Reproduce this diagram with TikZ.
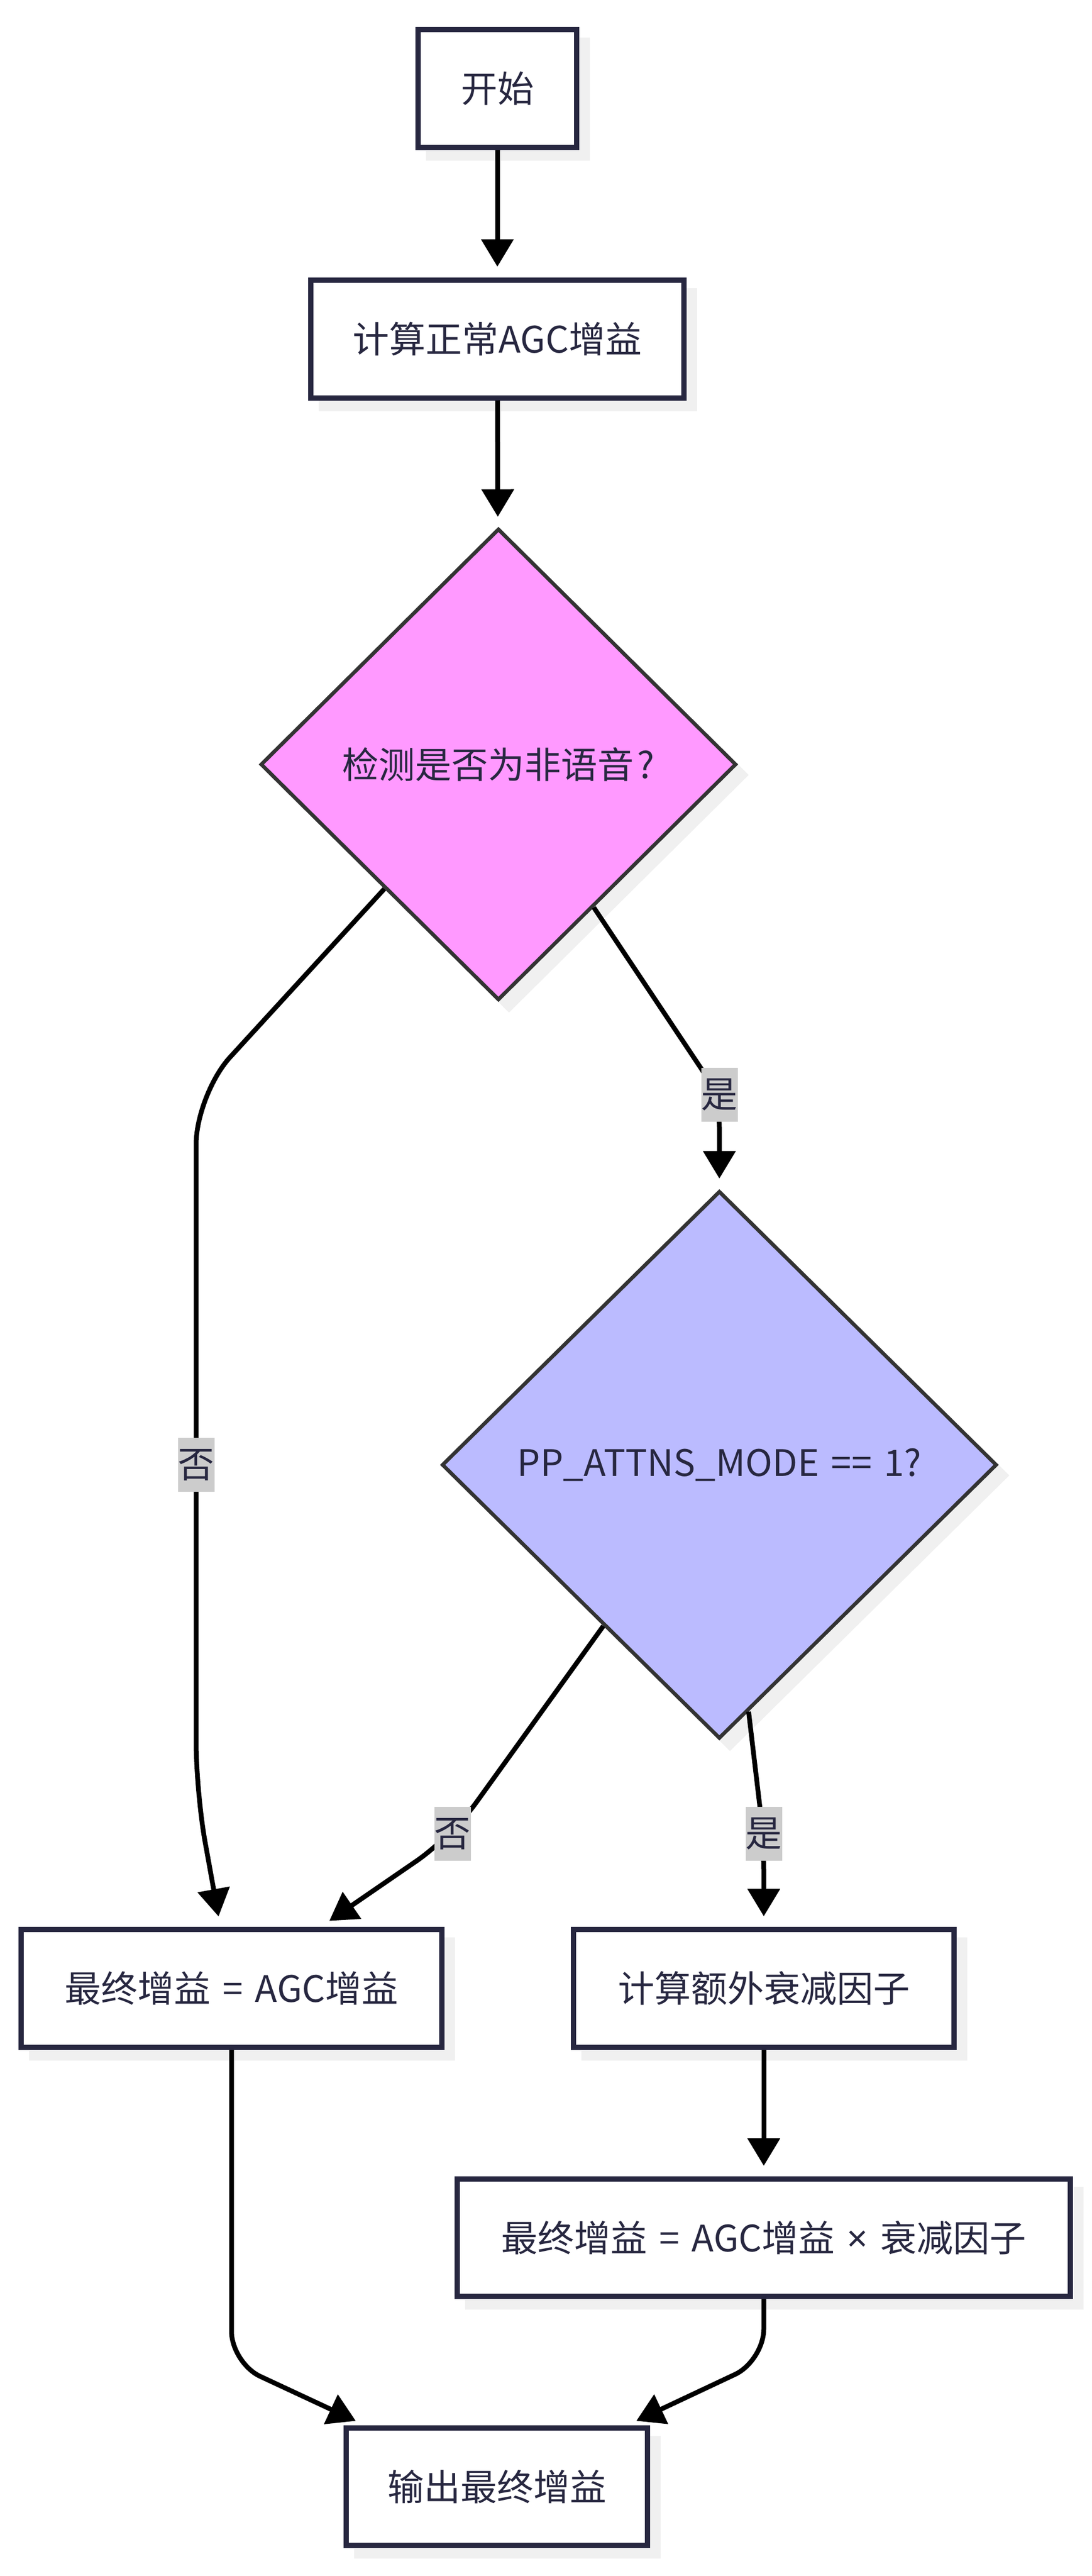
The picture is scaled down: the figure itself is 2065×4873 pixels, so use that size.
\documentclass[tikz,border=0pt]{standalone}
\usepackage{fontspec}
\setmainfont[WordSpace=1.5]{Noto Sans CJK SC}
\newfontfamily\latinsym{Noto Sans}
\usetikzlibrary{shapes.geometric,arrows.meta,shadows}
\definecolor{navy}{HTML}{272740}
\definecolor{dgray}{HTML}{333333}
\definecolor{shad}{HTML}{F0F0F0}
\definecolor{pinkfill}{HTML}{FF99FF}
\definecolor{bluefill}{HTML}{BBBBFF}
\definecolor{lblbg}{HTML}{CCCCCC}
\begin{document}
\begin{tikzpicture}[x=1pt,y=-1pt,
  every node/.style={font=\fontsize{69pt}{100pt}\selectfont, text=navy},
  boxnode/.style={draw=navy, line width=10pt, fill=white, inner sep=0pt,
    minimum height=223pt,
    drop shadow={shadow xshift=20pt, shadow yshift=-20pt, fill=shad, draw=shad, line width=10pt, opacity=1}},
  dianode/.style={shape=diamond, draw=dgray, line width=7pt, inner sep=0pt,
    drop shadow={shadow xshift=20pt, shadow yshift=-20pt, fill=shad, draw=shad, line width=7pt, opacity=1}},
  arr/.style={draw=black, line width=9pt, -{Triangle[length=52pt,width=60pt]}, shorten >=20pt},
  lbl/.style={fill=lblbg, inner sep=0pt, minimum width=68pt, minimum height=102pt}
]
\useasboundingbox (0,0) rectangle (2065,4873);

% nodes
\node[boxnode, minimum width=300pt] (start) at (941,167.5) {开始};
\node[boxnode, minimum width=706pt] (calc) at (941,641) {计算正常AGC增益};
\node[dianode, fill=pinkfill, minimum width=900pt, minimum height=892pt] (d1) at (943,1446) {检测是否为非语音\kern6pt?};
\node[dianode, fill=bluefill, minimum width=1050pt, minimum height=1036pt] (d2) at (1361,2771) {PP\_ATTNS\_MODE == 1?};
\node[boxnode, minimum width=796pt] (eqL) at (438,3761.5) {最终增益 = AGC增益};
\node[boxnode, minimum width=720pt] (calcX) at (1445,3761.5) {计算额外衰减因子};
\node[boxnode, minimum width=1160pt, minimum height=222pt] (mulX) at (1445,4233) {最终增益 = AGC增益 {\latinsym ×} 衰减因子};
\node[boxnode, minimum width=570pt, minimum height=222pt] (out) at (940,4704) {输出最终增益};

% bend points
\coordinate (k3a) at (371,2070);
\coordinate (k3b) at (371,3390);
\coordinate (k4) at (1361,2073);
\coordinate (k5) at (854,3475);
\coordinate (k6) at (1445,3480);
\coordinate (k8) at (438,4470);
\coordinate (k9) at (1445,4466);

% connectors
\draw[arr] (start) -- (calc);
\draw[arr] (calc) -- (d1);
\draw[arr, rounded corners=95pt] (d1) -- (k3a) -- (k3b) -- (eqL);
\draw[arr, rounded corners=60pt] (d1) -- (k4) -- (d2);
\draw[arr, rounded corners=80pt] (d2) -- (k5) -- (eqL);
\draw[arr, rounded corners=60pt] (d2) -- (k6) -- (calcX);
\draw[arr] (calcX) -- (mulX);
\draw[arr, rounded corners=60pt] (eqL) -- (k8) -- (out);
\draw[arr, rounded corners=60pt] (mulX) -- (k9) -- (out);

% edge labels
\node[lbl] (l1) at (1361,2071) {是};
\node[lbl] (l2) at (371,2771) {否};
\node[lbl] (l3) at (856,3469) {否};
\node[lbl] (l4) at (1445,3469) {是};
\end{tikzpicture}
\end{document}
